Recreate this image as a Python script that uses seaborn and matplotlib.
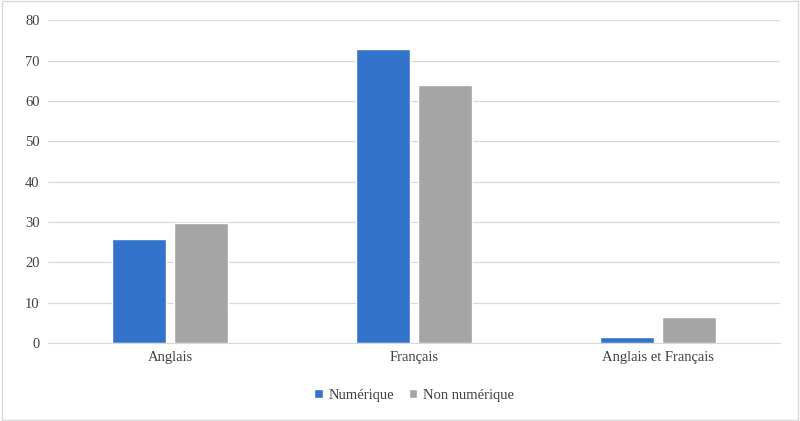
import matplotlib
matplotlib.use("Agg")
import matplotlib.pyplot as plt
import seaborn as sns
import pandas as pd

categories = ["Anglais", "Français", "Anglais et Français"]
numerique = [25.7, 72.8, 1.5]
non_numerique = [29.7, 63.9, 6.5]
series = ["Numérique", "Non numérique"]

df = pd.DataFrame({
    "cat": categories * 2,
    "val": numerique + non_numerique,
    "serie": [series[0]] * 3 + [series[1]] * 3,
})

sns.set_style("white")
plt.rcParams['font.family'] = ['Liberation Serif', 'DejaVu Serif']

fig = plt.figure(figsize=(8, 4.21), dpi=100)
ax = fig.add_axes([0.06, 0.185, 0.915, 0.767])
sns.barplot(data=df, x="cat", y="val", hue="serie", ax=ax,
            palette=["#3373CC", "#A5A5A5"], width=0.51, gap=0.12,
            saturation=1, legend=True)
ax.set_ylim(0, 80)
ax.set_xlim(-0.5, 2.5)
ax.set_yticks(range(0, 81, 10))
ax.yaxis.grid(True, color="#D9D9D9", linewidth=0.9)
ax.set_axisbelow(True)
for s in ["top", "left", "right"]:
    ax.spines[s].set_visible(False)
ax.spines["bottom"].set_color("#D9D9D9")
ax.tick_params(axis="both", length=0, labelsize=10.5, colors="#404040", pad=6)
ax.set_xlabel("")
ax.set_ylabel("")
ax.legend(loc="upper center", bbox_to_anchor=(0.5, -0.1), ncol=2, frameon=False,
          fontsize=10.5, handlelength=0.6, handleheight=0.6, columnspacing=1.0,
          handletextpad=0.4, labelcolor="#404040")
fig.patches.append(plt.Rectangle((0.002, 0.003), 0.996, 0.994, transform=fig.transFigure,
                                 fill=False, edgecolor="#D9D9D9", linewidth=1))
fig.savefig("out.png", dpi=100)
